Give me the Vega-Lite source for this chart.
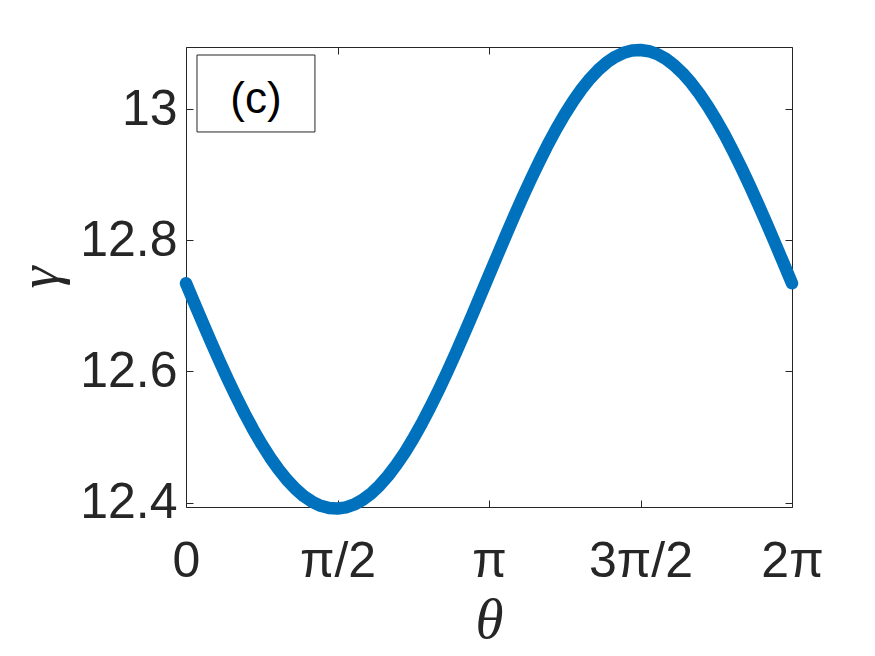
{
  "$schema": "https://vega.github.io/schema/vega-lite/v6.json",
  "width": 606,
  "height": 460,
  "autosize": "none",
  "padding": {"left": 186, "top": 47, "right": 83, "bottom": 149},
  "background": "white",
  "config": {
    "view": {"stroke": "#262626", "strokeWidth": 1},
    "axis": {"grid": false, "domain": false, "tickColor": "#262626", "tickSize": -7, "tickWidth": 1, "labelColor": "#262626", "labelFont": "Liberation Sans", "labelFontSize": 50, "labelFlush": false, "labelOverlap": false, "titleColor": "#262626"}
  },
  "datasets": {
    "curve": [
      {"theta": 0.0, "gamma": 12.7344}, {"theta": 0.0873, "gamma": 12.7040}, {"theta": 0.1745, "gamma": 12.6738}, {"theta": 0.2618, "gamma": 12.6442},
      {"theta": 0.3491, "gamma": 12.6153}, {"theta": 0.4363, "gamma": 12.5873}, {"theta": 0.5236, "gamma": 12.5605}, {"theta": 0.6109, "gamma": 12.5351},
      {"theta": 0.6981, "gamma": 12.5112}, {"theta": 0.7854, "gamma": 12.4891}, {"theta": 0.8727, "gamma": 12.4689}, {"theta": 0.9599, "gamma": 12.4508},
      {"theta": 1.0472, "gamma": 12.4348}, {"theta": 1.1345, "gamma": 12.4212}, {"theta": 1.2217, "gamma": 12.4100}, {"theta": 1.3090, "gamma": 12.4014},
      {"theta": 1.3963, "gamma": 12.3953}, {"theta": 1.4835, "gamma": 12.3919}, {"theta": 1.5708, "gamma": 12.3911}, {"theta": 1.6581, "gamma": 12.3929},
      {"theta": 1.7453, "gamma": 12.3974}, {"theta": 1.8326, "gamma": 12.4045}, {"theta": 1.9199, "gamma": 12.4142}, {"theta": 2.0071, "gamma": 12.4264},
      {"theta": 2.0944, "gamma": 12.4409}, {"theta": 2.1817, "gamma": 12.4578}, {"theta": 2.2689, "gamma": 12.4767}, {"theta": 2.3562, "gamma": 12.4977},
      {"theta": 2.4435, "gamma": 12.5206}, {"theta": 2.5307, "gamma": 12.5451}, {"theta": 2.6180, "gamma": 12.5711}, {"theta": 2.7053, "gamma": 12.5983},
      {"theta": 2.7925, "gamma": 12.6267}, {"theta": 2.8798, "gamma": 12.6560}, {"theta": 2.9671, "gamma": 12.6858}, {"theta": 3.0543, "gamma": 12.7161},
      {"theta": 3.1416, "gamma": 12.7466}, {"theta": 3.2289, "gamma": 12.7770}, {"theta": 3.3161, "gamma": 12.8072}, {"theta": 3.4034, "gamma": 12.8368},
      {"theta": 3.4907, "gamma": 12.8658}, {"theta": 3.5779, "gamma": 12.8937}, {"theta": 3.6652, "gamma": 12.9205}, {"theta": 3.7525, "gamma": 12.9459},
      {"theta": 3.8397, "gamma": 12.9698}, {"theta": 3.9270, "gamma": 12.9919}, {"theta": 4.0143, "gamma": 13.0121}, {"theta": 4.1015, "gamma": 13.0303},
      {"theta": 4.1888, "gamma": 13.0462}, {"theta": 4.2761, "gamma": 13.0598}, {"theta": 4.3633, "gamma": 13.0710}, {"theta": 4.4506, "gamma": 13.0796},
      {"theta": 4.5379, "gamma": 13.0857}, {"theta": 4.6251, "gamma": 13.0892}, {"theta": 4.7124, "gamma": 13.0900}, {"theta": 4.7997, "gamma": 13.0881},
      {"theta": 4.8869, "gamma": 13.0836}, {"theta": 4.9742, "gamma": 13.0765}, {"theta": 5.0615, "gamma": 13.0668}, {"theta": 5.1487, "gamma": 13.0546},
      {"theta": 5.2360, "gamma": 13.0401}, {"theta": 5.3233, "gamma": 13.0233}, {"theta": 5.4105, "gamma": 13.0043}, {"theta": 5.4978, "gamma": 12.9833},
      {"theta": 5.5851, "gamma": 12.9605}, {"theta": 5.6723, "gamma": 12.9359}, {"theta": 5.7596, "gamma": 12.9099}, {"theta": 5.8469, "gamma": 12.8827},
      {"theta": 5.9341, "gamma": 12.8543}, {"theta": 6.0214, "gamma": 12.8251}, {"theta": 6.1087, "gamma": 12.7952}, {"theta": 6.1959, "gamma": 12.7649},
      {"theta": 6.2832, "gamma": 12.7344}
    ],
    "box": [
      {"x1": 0.114, "x2": 1.337, "y1": 12.965, "y2": 13.0823, "xt": 0.726, "yt": 13.013, "label": "(c)"}
    ]
  },
  "layer": [
    {
      "data": {"name": "box"},
      "mark": {"type": "rect", "fill": "white", "stroke": "#262626", "strokeWidth": 1},
      "encoding": {
        "x": {"field": "x1", "type": "quantitative", "scale": {"domain": [0, 6.2832], "nice": false, "zero": false},
              "axis": {"orient": "top", "values": [0, 1.5708, 3.1416, 4.7124, 6.2832], "labels": false, "title": null}},
        "x2": {"field": "x2"},
        "y": {"field": "y1", "type": "quantitative", "scale": {"domain": [12.3935, 13.0945], "nice": false, "zero": false},
              "axis": {"orient": "right", "values": [12.4, 12.6, 12.8, 13], "labels": false, "title": null}},
        "y2": {"field": "y2"}
      }
    },
    {
      "data": {"name": "box"},
      "mark": {"type": "text", "font": "Liberation Sans", "fontSize": 44, "color": "black", "align": "center", "baseline": "middle"},
      "encoding": {
        "x": {"field": "xt", "type": "quantitative", "axis": null},
        "y": {"field": "yt", "type": "quantitative", "axis": null},
        "text": {"field": "label"}
      }
    },
    {
      "data": {"name": "curve"},
      "mark": {"type": "line", "color": "#0072BD", "strokeWidth": 12.5, "strokeCap": "round", "strokeJoin": "round"},
      "encoding": {
        "x": {"field": "theta", "type": "quantitative",
              "axis": {"orient": "bottom", "values": [0, 1.5708, 3.1416, 4.7124, 6.2832],
                       "labelExpr": "datum.value < 0.1 ? '0' : datum.value < 2 ? 'π/2' : datum.value < 4 ? 'π' : datum.value < 5 ? '3π/2' : '2π'",
                       "labelPadding": 36, "title": "θ", "titleFont": "Liberation Serif", "titleFontStyle": "italic", "titleFontWeight": "normal", "titleFontSize": 57, "titlePadding": 6}},
        "y": {"field": "gamma", "type": "quantitative",
              "axis": {"orient": "left", "values": [12.4, 12.6, 12.8, 13], "labelExpr": "datum.value == 13 ? '13' : format(datum.value, '.1f')",
                       "labelPadding": 16, "title": "γ", "titleFont": "Liberation Serif", "titleFontStyle": "italic", "titleFontWeight": "normal", "titleFontSize": 56, "titlePadding": 10}}
      }
    }
  ],
  "resolve": {"axis": {"x": "independent", "y": "independent"}}
}
